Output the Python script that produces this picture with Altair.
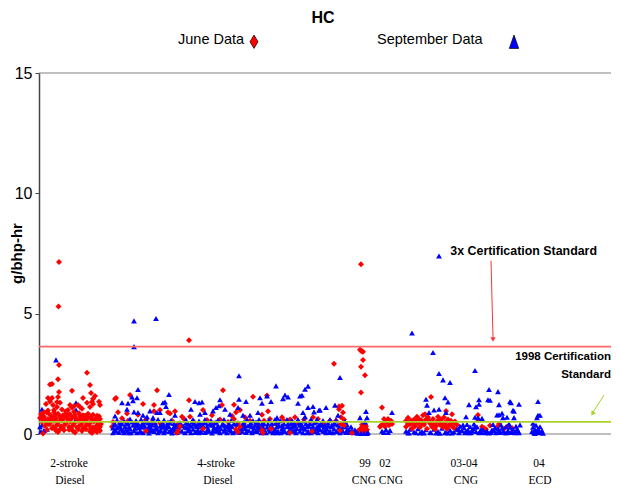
import altair as alt
import pandas as pd

y_ticks = [0, 5, 10, 15]
standard_3x = 3.63
standard_1998 = 0.5

# (test position, g/bhp-hr)
sept_under = [(40,.3),(42,.37),(42,1.03),(43,.78),(45,.58),(61,.3),(76,1.3),(76,1.0),(76,.62),(85,.62),(56,3.08),(44,.15),(41,.1),(47,.2),
 (406,.12),(410,.2),(414,.08),(418,.22),(422,.1),(426,.18),(430,.06),(434,.2),(438,.1),(442,.24),(446,.07),(450,.16),(454,.08),(408,.05),(420,.04),(436,.04),(448,.04)]

june_2s_top = [(59,7.15),(58.5,5.3),(59,2.87),(58,2.28),(87,2.54),(90,2.04),(52,2.08),(50,2.06),(59,1.75),(72,1.8),(91,1.7),(48,1.5),(52,1.5),(58,1.54),(83,1.5),(95,1.58),(93,1.46),(92,1.34),(99,1.34),(100,1.2),
 (46,1.25),(50,1.35),(53,1.2),(57,1.33),(60,1.3),(57,1.12),(70,1.2),(72,1.1),(74,1.15),(78,1.2),(80,1.12),(82,1.05),(87,1.3),(90,1.12),(93,1.25),(68,1.0),(66,.95),(62,1.02),(54,1.0),(48,.98),(44,.9)]
june_2s_band = [(41,.82),(47,.88),(50,.8),(54,.9),(58,.84),(63,.78),(66,.86),(70,.82),(74,.92),(79,.86),(83,.78),(88,.84),(93,.8),(97,.76),
 (40,.66),(44,.72),(48,.62),(52,.7),(56,.64),(60,.72),(64,.68),(68,.6),(72,.7),(76,.64),(80,.72),(84,.62),(88,.68),(92,.6),(96,.66),(100,.62),
 (42,.5),(46,.56),(50,.46),(54,.54),(58,.48),(62,.56),(66,.46),(70,.52),(74,.44),(78,.54),(82,.48),(86,.54),(90,.46),(94,.52),(98,.48),(101,.42),
 (45,.34),(49,.4),(53,.3),(57,.38),(61,.32),(65,.4),(69,.3),(73,.36),(77,.28),(81,.38),(85,.3),(89,.36),(93,.28),(97,.36),(100,.3),
 (47,.18),(52,.24),(56,.14),(60,.2),(64,.16),(69,.18),(73,.12),(78,.2),(82,.12),(86,.2),(90,.1),(94,.16),(97,.08),(100,.14),(43,.02),(58,.08),(75,.06),(92,.04),
 (43,.6),(51,.6),(55,.78),(61,.6),(67,.74),(71,.62),(75,.78),(81,.58),(85,.76),(91,.72),(95,.56),(99,.74),(47,.42),(55,.24),(63,.26),(71,.24),(79,.32),(83,.22),(87,.42),(91,.22),(95,.24),(99,.2)]
june_4s = [(115,1.45),(116,1.5),(130,1.62),(157,1.82),(189,3.9),(189,1.4),(223,1.82),(253,1.55),(267,1.6),(268,.95),(113,.5),(118,.9),(122,.65),(127,.85),(138,.8),(143,1.25),(154,1.2),(154,.95),(160,1.0),(168,.9),(170,.85),(175,.95),(182,.72),(190,.72),(203,1.0),(212,.78),(222,1.2),(234,1.22),(236,.9),(240,1.0),(232,.75),(245,.7),(262,.8),(282,.7),(295,.7),(313,.7),
 (112,.3),(120,.45),(128,.55),(136,.4),(146,.6),(152,.5),(160,.45),(172,.55),(178,.4),(180,.3),(184,.62),(194,.5),(200,.4),(207,.58),(214,.45),(220,.6),(228,.5),(234,.62),(238,.45),(242,.3),(250,.55),(258,.42),(262,.3),(264,.55),(270,.62),(276,.42),(284,.55),(290,.6),(298,.45),(304,.6),(310,.5),(318,.62),(324,.42),(330,.55),(339,1.14),(342,1.17),(339,1.03),(343,.89),(341,.7),(336,.55),(334,2.92),(344,.6)]
june_cng = [(361,7.05),(360,3.5),(361,3.46),(362,3.44),(363,3.42),(363,3.07),(361,2.79),(365,2.44),(361,1.72),
 (358,.12),(360,.2),(362,.28),(364,.22),(366,.32),(367,.18),(359,.06),(361,.12),(363,.1),(365,.1),(362,.38),(365,.4),
 (382,1.1),(381,.35),(383,.42),(384,.62),(385,.3),(387,.48),(389,.36),(391,.55),(392,.42),(388,.62),(386,.55),(380,.3),
 (431,1.54),(446,.96),(452,.82),(478,.79),(425,.82),(406,.55),(408,.68),(406,.3),(410,.4),(412,.22),(414,.6),(415,.32),(417,.72),(418,.45),(420,.28),(421,.58),(423,.78),(424,.38),(426,.6),(427,.22),(428,.7),(430,.45),(432,.3),(433,.62),(435,.2),(437,.52),(438,.72),(440,.38),(441,.6),(443,.28),(444,.7),(445,.48),(447,.22),(448,.6),(449,.35),(451,.55),(453,.28),(454,.45),(456,.2),(457,.38),(478,.6),(482,.3),(484,.25),(486,.2),(490,.35),(497,.28),(499,.42),(504,.22),(507,.3),(512,.25),
 (408,.42),(411,.55),(413,.42),(416,.52),(419,.6),(422,.42),(425,.5),(429,.55),(431,.42),(434,.42),(436,.32),(439,.5),(442,.42),(446,.35),(450,.42),(455,.52)]

sept_4s_top = [(134,4.7),(156,4.8),(134,3.63),(115,.75),(122,1.3),(127,1.03),(128,1.28),(132,1.54),(137,1.51),(133,1.38),(138,1.85),(134,.92),(138,.89),(143,.78),(150,.96),(147,.72),(153,.68),(157,.89),(160,.89),(163,1.3),(165,1.33),(166,1.14),(169,1.64),(175,.78),(191,1.03),(195,1.35),(199,1.3),(202,1.33),(200,.82),(205,.89),(213,.96),(216,1.1),(220,1.42),(219,1.17),(225,1.03),(230,.82),(239,2.42),(239,1.44),(238,1.1),(246,1.35),(243,.78),(250,.78),(260,1.51),(262,1.28),(267,1.58),(271,1.35),(258,.89),(276,2.0),(277,.68),(285,1.62),(283,1.47),(288,1.54),(298,1.28),(300,1.58),(302,1.61),(305,1.86),(308,1.99),(303,.89),(308,1.1),(313,1.14),(314,.92),(320,1.0),(326,1.1),(335,1.2),(340,2.35),(338,.78),(319,.99),(305,.72)]
sept_4s_band = [(113,.05),(113,.25),(115,.42),(116,.12),(118,.3),(119,.06),(121,.2),(122,.42),(124,.05),(125,.3),(127,.12),(128,.45),(130,.22),(131,.05),(133,.36),(134,.14),(136,.46),(137,.05),(139,.26),(140,.12),(142,.42),(143,.05),(145,.28),(146,.14),(148,.46),(149,.04),(151,.24),(152,.38),(154,.1),(155,.46),(157,.2),(158,.05),(160,.32),(161,.14),(163,.46),(164,.05),(166,.24),(167,.38),(169,.1),(170,.46),(172,.04),(173,.22),(175,.14),(176,.36),(185,.05),(185,.28),(186,.46),(188,.14),(190,.36),(191,.05),(193,.2),(194,.44),(196,.1),(197,.3),(199,.05),(200,.46),(202,.18),(203,.34),(205,.06),(206,.46),(208,.22),(209,.12),(211,.38),(212,.04),(214,.26),(215,.46),(217,.12),(218,.34),(220,.05),(221,.22),(223,.44),(224,.12),(226,.3),(227,.05),(229,.44),(230,.18),(232,.32),(233,.05),(242,.1),(243,.44),(245,.22),(246,.06),(248,.34),(249,.14),(251,.46),(252,.05),(254,.24),(255,.36),(257,.1),(258,.46),(260,.18),(261,.05),(266,.05),(267,.28),(268,.42),(270,.12),(272,.3),(273,.05),(275,.2),(276,.46),(278,.12),(279,.34),(281,.05),(282,.22),(284,.42),(285,.1),(287,.3),(288,.05),(290,.2),(291,.44),(293,.12),(294,.32),(296,.05),(297,.22),(299,.46),(300,.12),(302,.34),(303,.05),(305,.2),(306,.44),(308,.12),(309,.32),(311,.05),(312,.24),(314,.46),(315,.1),(317,.3),(318,.05),(320,.18),(321,.44),(323,.12),(324,.28),(326,.05),(327,.2),(328,.46),(330,.12),(331,.3),(333,.05),(335,.44),(337,.1),(339,.28),(340,.05),(343,.12),(345,.3),(346,.06),(343,.3),(348,.2),(349,.06),(352,.14),(354,.08),(356,.05),(334,.22),(316,.2),(304,.25),(292,.28),(274,.14),(256,.12),(244,.3),(231,.3),(216,.2),(198,.16),(187,.26),(162,.28),(150,.14),(141,.3),(126,.2),(117,.25)]
sept_4s_fill = [(177,.06),(178,.28),(180,.48),(182,.12),(183,.34),(235,.12),(237,.4),(239,.06),(240,.26),(263,.28),(264,.44),(265,.12),(114,.38),(120,.48),(126,.42),(132,.5),(138,.44),(144,.5),(150,.42),(156,.38),(162,.42),(168,.5),(174,.44),(188,.42),(192,.5),(198,.38),(204,.48),(210,.44),(216,.5),(222,.38),(228,.34),(234,.44),(244,.5),(250,.38),(256,.5),(262,.42),(272,.44),(278,.5),(282,.36),(288,.44),(294,.48),(300,.36),(310,.44),(316,.5),(322,.36),(328,.34),(334,.42),(342,.42),(347,.38),(351,.3),
 (115,.18),(123,.14),(129,.05),(135,.24),(141,.08),(147,.22),(153,.16),(159,.12),(165,.14),(171,.16),(179,.16),(189,.22),(195,.06),(201,.08),(207,.12),(213,.14),(219,.12),(225,.2),(231,.12),(241,.2),(247,.14),(253,.12),(259,.26),(269,.2),(277,.05),(283,.14),(289,.12),(295,.14),(301,.24),(307,.05),(313,.14),(319,.24),(325,.12),(329,.06),(336,.1),(341,.2),(347,.16),(350,.12),(355,.18)]
sept_4s_more = [(117,.58),(124,.54),(130,.62),(136,.56),(141,.6),(147,.55),(153,.56),(158,.6),(164,.58),(171,.56),(186,.58),(193,.6),(199,.54),(205,.6),(211,.56),(218,.58),(224,.6),(231,.56),(247,.6),(253,.56),(259,.6),(269,.58),(275,.6),(280,.56),(287,.6),(292,.56),(298,.6),(304,.54),(311,.6),(317,.6),(323,.56),(330,.6),(336,.58),(345,.52),
 (120,.33),(129,.3),(137,.33),(144,.36),(149,.3),(156,.26),(164,.32),(169,.3),(174,.3),(192,.32),(196,.36),(201,.3),(207,.32),(213,.36),(219,.28),(225,.34),(229,.24),(245,.36),(252,.3),(258,.3),(271,.36),(277,.3),(283,.28),(289,.32),(295,.38),(301,.44),(307,.32),(313,.32),(319,.38),(325,.36),(332,.38),(338,.38)]
sept_cng = [(358,.03),(361,.02),(364,.03),(367,.02),(360,.68),(366,.94),(367,.68),(365,.5),(368,.06),
 (382,.12),(384,.06),(386,.18),(388,.06),(390,.15),(392,.89),
 (412,4.2),(439,7.4),(433,3.39),(439,2.51),(443,2.25),(450,2.14),(426,1.44),(427,1.2),(429,.89),(434,1.0),(439,1.03),(445,1.51),(448,1.33),(446,.89),(475,2.64),(489,1.85),(498,1.76),(469,1.22),(476,1.13),(479,1.42),(479,1.24),(488,1.42),(490,1.4),(499,1.22),(510,1.35),(519,1.24),(513,.99),(511,1.3),(514,.95),(502,.86),(497,.79),(499,.8),(466,.72),(478,.68),(482,.65),(475,.7),(503,.68),(507,.7),(514,.68),
 (409,.04),(416,.05),(424,.04),(431,.05),(440,.03),(445,.05),(452,.04),
 (457,.2),(459,.05),(460,.32),(462,.14),(464,.26),(465,.05),(467,.4),(468,.16),(470,.3),(471,.05),(473,.22),(474,.42),(476,.1),(477,.3),(479,.05),(481,.18),(482,.06),(485,.05),(487,.12),(489,.04),(491,.06),(493,.4),(494,.14),(496,.05),(498,.22),(500,.06),(501,.38),(503,.12),(505,.05),(506,.3),(508,.14),(509,.42),(511,.06),(513,.2),(515,.05),(516,.32),(518,.14),(519,.05),(520,.38),
 (459,.18),(463,.38),(466,.12),(469,.05),(472,.14),(475,.28),(480,.1),(483,.18),(486,.08),(492,.18),(495,.26),(499,.14),(502,.24),(507,.05),(510,.28),(512,.12),(517,.2)]
sept_ecd = [(532,.1),(533,.28),(533,.45),(534,.05),(535,.18),(536,.36),(537,.06),(538,.22),(538,1.35),(538,.78),(540,.78),(539,.1),(540,.3),(541,.05),(542,.14),(537,.68),(543,.03),(535,.02)]
june_over = [(178,.14),(180,.32),(177,.05),(236,.2),(238,.08),(240,.3),(262,.16),(263,.05),(271,.22),(290,.05),(146,.12),(203,.22),(312,.1),(340,.15),(352,.04),(341,.42),(344,.35)]

text_rows = [("2-stroke",69,-1.25),("Diesel",70,-1.96),("4-stroke",216,-1.25),("Diesel",218,-1.96),("99",365,-1.25),("CNG",364,-1.96),("02",385,-1.25),("CNG",391,-1.96),("03-04",464,-1.25),("CNG",466,-1.96),("04",539,-1.25),("ECD",540,-1.96)]
ann_rows = [("3x Certification Standard",597,7.6)]
ann_rows2 = [("1998 Certification",611,3.2),("Standard",611,2.45)]

X = alt.X("x:Q", scale=alt.Scale(domain=[39,611]), axis=None)
Y = alt.Y("y:Q", scale=alt.Scale(domain=[0,15]),
          axis=alt.Axis(values=y_ticks, grid=False, title=None,
                        labelFont="Liberation Sans", labelFontSize=16, labelColor="black", labelPadding=3, tickColor="#444444", tickSize=4, domainColor="#444444", domainWidth=1.5))

DIA = "M0,-1L0.6,0L0,1L-0.6,0Z"
TRI = "M0,-1L0.7,1L-0.7,1Z"

def frame(rows):
    return pd.DataFrame(rows, columns=["x","y"])

def pts(rows, shape, color, size):
    return alt.Chart(frame(rows)).mark_point(filled=True, shape=shape, color=color, size=size, opacity=1, strokeWidth=0).encode(x=X, y=Y)

def hline(v, color, w):
    return alt.Chart(pd.DataFrame({"y":[v]})).mark_rule(color=color, strokeWidth=w).encode(y=Y, x=alt.value(0), x2=alt.value(572))

def seg(x0,y0,x1,y1,color):
    d = pd.DataFrame({"x":[x0],"x2":[x1],"y":[y0],"y2":[y1]})
    return alt.Chart(d).mark_rule(color=color, strokeWidth=1).encode(x=X, y=Y, x2="x2:Q", y2="y2:Q")

def txt(rows, **kw):
    d = pd.DataFrame(rows, columns=["t","x","y"])
    return alt.Chart(d).mark_text(color="black", **kw).encode(text="t:N", x=X, y=Y)

layers = [
    hline(15,"#808080",1.2), hline(0,"#808080",1.2),
    pts(sept_under,"triangle-up","#0000ff",34),
    pts(june_2s_top+june_2s_band+june_4s+june_cng,"diamond","#ff0000",36),
    pts(sept_4s_top+sept_4s_band+sept_4s_fill+sept_4s_more+sept_cng+sept_ecd,"triangle-up","#0000ff",34),
    pts(june_over,"diamond","#ff0000",36),
    hline(standard_3x,"#ff6666",1.6), hline(standard_1998,"#a6d22a",1.8),
    txt(text_rows, font="Liberation Serif", fontSize=11.5, align="center", baseline="middle"),
    txt(ann_rows, font="Liberation Sans", fontSize=12.4, fontWeight="bold", align="right", baseline="middle"),
    txt(ann_rows2, font="Liberation Sans", fontSize=11.5, fontWeight="bold", align="right", baseline="middle"),
    txt([("HC",323,17.27)], font="Liberation Sans", fontSize=16, fontWeight="bold", align="center", baseline="middle"),
    txt([("June Data",178,16.37),("September Data",377,16.37)], font="Liberation Sans", fontSize=14.5, align="left", baseline="middle"),
    txt([("g/bhp-hr",17,7.5)], font="Liberation Sans", fontSize=15, fontWeight="bold", align="center", baseline="middle", angle=270),
    alt.Chart(frame([(254,16.3)])).mark_point(filled=True, shape=DIA, color="#ff0000", size=180, opacity=1, stroke="black", strokeWidth=0.7).encode(x=X, y=Y),
    alt.Chart(frame([(514,16.3)])).mark_point(filled=True, shape=TRI, color="#0000ff", size=180, opacity=1, stroke="black", strokeWidth=0.7).encode(x=X, y=Y),
    seg(491,7.2,493,4.0,"#ff3333"),
    alt.Chart(frame([(493,3.93)])).mark_point(filled=True, shape="triangle-down", color="#ff3333", size=28, opacity=1, strokeWidth=0).encode(x=X, y=Y),
    seg(604,1.62,593,0.9,"#a6d22a"),
    alt.Chart(frame([(592.5,0.85)])).mark_point(filled=True, shape="triangle-down", color="#a6d22a", size=28, opacity=1, strokeWidth=0, angle=35).encode(x=X, y=Y),
]

chart = alt.layer(*layers).properties(width=572, height=361, padding={"left":31,"top":65,"right":0,"bottom":55}, autosize="none", background="white").configure_view(stroke=None)
chart.save("out.html", embed_options={"renderer": "svg", "actions": False})
